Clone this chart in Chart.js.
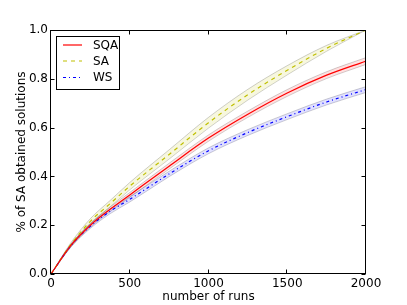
<!DOCTYPE html>
<html><head><meta charset="utf-8">
<script src="https://cdn.jsdelivr.net/npm/chart.js@4.4.0/dist/chart.umd.min.js"></script>
<style>html,body{margin:0;padding:0;background:#fff;}canvas{display:block;}</style>
</head><body>
<canvas id="c" width="407" height="305" style="width:407px;height:305px"></canvas>
<script>
// ---- data ----
const runs = [0, 125, 250, 375, 500, 750, 1000, 1250, 1500, 1750, 2000];
const sqa  = [0, 0.116, 0.200, 0.265, 0.324, 0.442, 0.557, 0.655, 0.742, 0.815, 0.873];
const sa   = [0, 0.120, 0.216, 0.288, 0.360, 0.490, 0.620, 0.735, 0.835, 0.925, 1.000];
const ws   = [0, 0.115, 0.196, 0.257, 0.306, 0.410, 0.505, 0.580, 0.645, 0.705, 0.756];
const sqaErr = [0, 0.005, 0.008, 0.009, 0.010, 0.012, 0.013, 0.013, 0.014, 0.014, 0.014];
const saErr  = [0, 0.007, 0.011, 0.013, 0.015, 0.019, 0.022, 0.022, 0.019, 0.012, 0.000];
const wsErr  = [0, 0.006, 0.009, 0.010, 0.011, 0.011, 0.012, 0.012, 0.012, 0.012, 0.012];
const xTicks = [0, 500, 1000, 1500, 2000];
const yTicks = [0, 0.2, 0.4, 0.6, 0.8, 1.0];
const seriesNames = ['SQA', 'SA', 'WS'];

const pts = (v, e, s) => runs.map((x, i) => ({x, y: v[i] + s * (e ? e[i] : 0)}));
const edge = 'rgba(0,0,0,0.18)';
const common = {pointRadius: 0, cubicInterpolationMode: 'monotone', borderWidth: 1};

const datasets = [
  {...common, label: 'SQA', data: pts(sqa, null, 0), borderColor: '#ff0000', borderWidth: 1.2, fill: false, order: 1},
  {...common, label: 'SA', data: pts(sa, null, 0), borderColor: '#bfbf00', borderWidth: 1.2, borderDash: [4, 4], fill: false, order: 2},
  {...common, label: 'WS', data: pts(ws, null, 0), borderColor: '#0000ff', borderWidth: 1.2, borderDash: [3, 3, 1, 3], fill: false, order: 3},
  // bands
  {...common, label: 'saU', data: pts(sa, saErr, 1), borderColor: edge, backgroundColor: 'rgba(191,191,0,0.13)', fill: 4, order: 10},
  {...common, label: 'saL', data: pts(sa, saErr, -1), borderColor: edge, fill: false, order: 10},
  {...common, label: 'sqaU', data: pts(sqa, sqaErr, 1), borderColor: edge, backgroundColor: 'rgba(255,0,0,0.12)', fill: 6, order: 9},
  {...common, label: 'sqaL', data: pts(sqa, sqaErr, -1), borderColor: edge, fill: false, order: 9},
  {...common, label: 'wsU', data: pts(ws, wsErr, 1), borderColor: edge, backgroundColor: 'rgba(0,0,255,0.12)', fill: 8, order: 8},
  {...common, label: 'wsL', data: pts(ws, wsErr, -1), borderColor: edge, fill: false, order: 8},
];

const framePlugin = {
  id: 'frame',
  afterDraw(chart) {
    const {ctx, chartArea: a, scales: {x, y}} = chart;
    ctx.save();
    ctx.strokeStyle = '#000';
    ctx.lineWidth = 1;
    const L = Math.round(a.left) - 0.5, R = Math.round(a.right) - 0.5;
    const T = Math.round(a.top) + 0.5, B = Math.round(a.bottom) - 0.5;
    ctx.beginPath();
    const tl = 4;
    xTicks.forEach(v => {
      const px = Math.round(x.getPixelForValue(v)) - 0.5;
      ctx.moveTo(px, B); ctx.lineTo(px, B - tl);
      ctx.moveTo(px, T); ctx.lineTo(px, T + tl);
    });
    yTicks.forEach(v => {
      const py = Math.round(y.getPixelForValue(v)) + 0.5;
      ctx.moveTo(L, py); ctx.lineTo(L + tl, py);
      ctx.moveTo(R, py); ctx.lineTo(R - tl, py);
    });
    ctx.stroke();
    ctx.strokeRect(L, T, R - L, B - T);
    // legend
    const lx = 56.5, ly = 36.5, lw = 63, lh = 53;
    ctx.fillStyle = '#fff';
    ctx.fillRect(lx, ly, lw, lh);
    ctx.strokeStyle = '#000';
    ctx.strokeRect(lx, ly, lw, lh);
    ctx.font = '12px "DejaVu Sans", sans-serif';
    ctx.textBaseline = 'middle';
    ctx.textAlign = 'left';
    const rows = [45, 61, 77.5];
    seriesNames.forEach((n, i) => {
      const ds = chart.data.datasets[i];
      ctx.save();
      ctx.strokeStyle = ds.borderColor;
      ctx.lineWidth = 1.2;
      ctx.setLineDash(ds.borderDash || []);
      ctx.beginPath();
      ctx.moveTo(63, rows[i]); ctx.lineTo(82, rows[i]);
      ctx.stroke();
      ctx.restore();
      ctx.fillStyle = '#000';
      ctx.fillText(n, 93, rows[i] + 0.5);
    });
    ctx.restore();
  }
};

Chart.defaults.font.family = '"DejaVu Sans", sans-serif';
Chart.defaults.font.size = 12;
Chart.defaults.color = '#000';

new Chart(document.getElementById('c'), {
  type: 'line',
  data: {datasets},
  options: {
    responsive: false,
    devicePixelRatio: 1,
    animation: false,
    layout: {padding: {top: 30, right: 41, left: 0, bottom: 0}},
    plugins: {legend: {display: false}, tooltip: {enabled: false}},
    scales: {
      x: {
        type: 'linear', min: 0, max: 2000,
        afterFit: s => { s.height = 31; },
        afterBuildTicks: s => { s.ticks = xTicks.map(v => ({value: v})); },
        grid: {display: false, drawTicks: false},
        border: {display: false},
        ticks: {padding: 3, maxRotation: 0, callback: v => String(v)},
        title: {display: true, text: 'number of runs', padding: {top: 0, bottom: 1}}
      },
      y: {
        type: 'linear', min: 0, max: 1,
        afterFit: s => { s.width = 51; },
        afterBuildTicks: s => { s.ticks = yTicks.map(v => ({value: v})); },
        grid: {display: false, drawTicks: false},
        border: {display: false},
        ticks: {padding: 3, callback: v => Number(v).toFixed(1)},
        title: {display: true, text: '% of SA obtained solutions', padding: {top: 15, bottom: 0}}
      }
    }
  },
  plugins: [framePlugin]
});
</script>
</body></html>
